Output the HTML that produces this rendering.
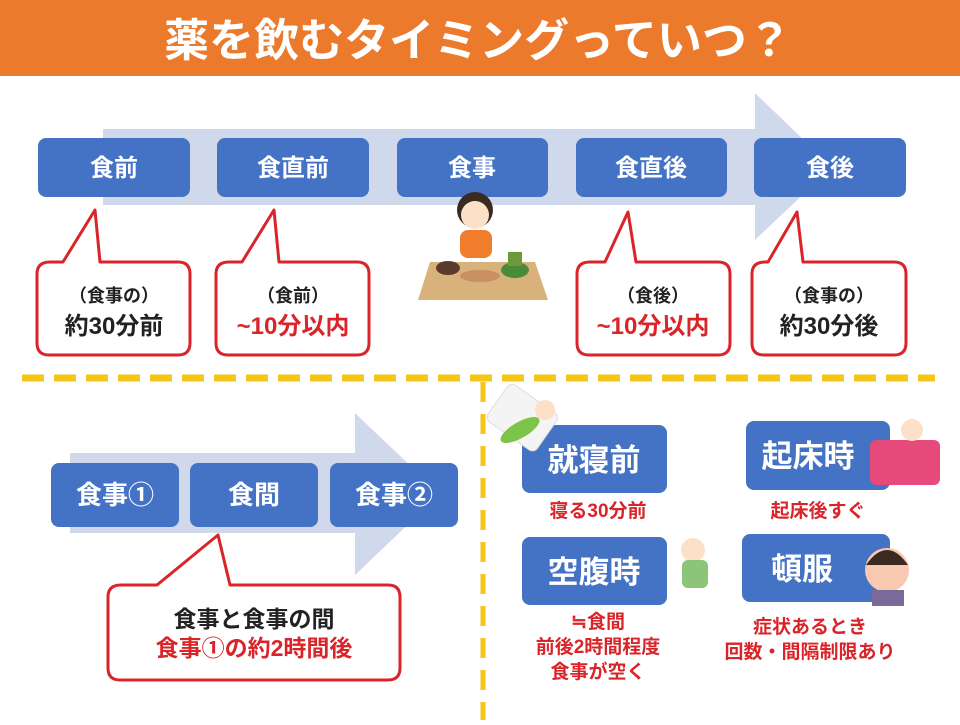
<!DOCTYPE html>
<html><head><meta charset="utf-8"><style>
body{margin:0;background:#fff}
svg text{font-family:"Liberation Sans","Noto Sans CJK JP",sans-serif;font-weight:bold}
</style></head><body>
<svg width="960" height="720" viewBox="0 0 960 720" xmlns="http://www.w3.org/2000/svg">
<rect x="0" y="0" width="960" height="76" fill="#ec7a2c"/>
<text x="478" y="56" font-size="45" fill="#fff" text-anchor="middle">薬を飲むタイミングっていつ？</text>

<polygon points="103,129 755,129 755,93 832,167 755,240 755,205 103,205" fill="#d0d8eb"/>
<g fill="#4472c4">
<rect x="38" y="138" width="152" height="59" rx="8"/>
<rect x="217" y="138" width="152" height="59" rx="8"/>
<rect x="397" y="138" width="151" height="59" rx="8"/>
<rect x="576" y="138" width="151" height="59" rx="8"/>
<rect x="754" y="138" width="152" height="59" rx="8"/>
</g>
<g fill="#fff" font-size="24" text-anchor="middle">
<text x="114" y="176">食前</text>
<text x="293" y="176">食直前</text>
<text x="472" y="176">食事</text>
<text x="651" y="176">食直後</text>
<text x="830" y="176">食後</text>
</g>

<g fill="#fff" stroke="#d9252a" stroke-width="3" stroke-linejoin="round">
<path d="M50,262 H63 L95,210 L100,262 H178 Q190,262 190,274 V343 Q190,355 178,355 H49 Q37,355 37,343 V274 Q37,262 50,262 Z"/>
<path d="M229,262 H242 L274,210 L279,262 H357 Q369,262 369,274 V343 Q369,355 357,355 H228 Q216,355 216,343 V274 Q216,262 229,262 Z"/>
<path d="M590,262 H605 L628,212 L636,262 H718 Q730,262 730,274 V343 Q730,355 718,355 H589 Q577,355 577,343 V274 Q577,262 590,262 Z"/>
<path d="M765,262 H768 L797,212 L803,262 H894 Q906,262 906,274 V343 Q906,355 894,355 H764 Q752,355 752,343 V274 Q752,262 765,262 Z"/>
<path d="M121,585 H157 L218,535 L230,585 H388 Q400,585 400,597 V668 Q400,680 388,680 H120 Q108,680 108,668 V597 Q108,585 121,585 Z"/>
</g>
<g text-anchor="middle">
<text x="114" y="302" font-size="18" fill="#222">（食事の）</text>
<text x="114" y="334" font-size="24" fill="#222">約30分前</text>
<text x="293" y="302" font-size="18" fill="#222">（食前）</text>
<text x="293" y="334" font-size="24" fill="#d9252a">~10分以内</text>
<text x="653" y="302" font-size="18" fill="#222">（食後）</text>
<text x="653" y="334" font-size="24" fill="#d9252a">~10分以内</text>
<text x="829" y="302" font-size="18" fill="#222">（食事の）</text>
<text x="829" y="334" font-size="24" fill="#222">約30分後</text>
<text x="254" y="627" font-size="23" fill="#222">食事と食事の間</text>
<text x="254" y="656" font-size="23" fill="#d9252a">食事①の約2時間後</text>
</g>

<polygon points="430,262 535,262 548,300 418,300" fill="#d8b27a"/>
<circle cx="475" cy="210" r="18" fill="#3a2a22"/>
<circle cx="475" cy="215" r="14" fill="#fde0c8"/>
<rect x="460" y="230" width="32" height="28" rx="8" fill="#ef7d2b"/>
<ellipse cx="448" cy="268" rx="12" ry="7" fill="#5a3a2a"/>
<ellipse cx="515" cy="270" rx="14" ry="8" fill="#4a8a3a"/>
<ellipse cx="480" cy="276" rx="20" ry="6" fill="#c89060"/>
<rect x="508" y="252" width="14" height="14" fill="#6a9a3a"/>

<line x1="22" y1="378" x2="935" y2="378" stroke="#f5c518" stroke-width="7" stroke-dasharray="22,10"/>
<line x1="483" y1="382" x2="483" y2="720" stroke="#f5c518" stroke-width="5" stroke-dasharray="20,12"/>

<polygon points="70,453 355,453 355,413 440,494 355,575 355,533 70,533" fill="#d0d8eb"/>
<g fill="#4472c4">
<rect x="51" y="463" width="128" height="64" rx="8"/>
<rect x="190" y="463" width="128" height="64" rx="8"/>
<rect x="330" y="463" width="128" height="64" rx="8"/>
</g>
<g fill="#fff" font-size="26" text-anchor="middle">
<text x="115" y="504">食事①</text>
<text x="254" y="504">食間</text>
<text x="394" y="504">食事②</text>
</g>

<g fill="#4472c4">
<rect x="522" y="425" width="145" height="68" rx="8"/>
<rect x="522" y="537" width="145" height="68" rx="8"/>
<rect x="746" y="421" width="144" height="69" rx="8"/>
<rect x="742" y="534" width="148" height="68" rx="8"/>
</g>
<rect x="492" y="395" width="60" height="45" rx="6" fill="#f4f4f4" stroke="#ddd" transform="rotate(35 522 418)"/>
<ellipse cx="520" cy="430" rx="22" ry="8" fill="#7cc44a" transform="rotate(-30 520 430)"/>
<circle cx="545" cy="410" r="10" fill="#fde0c8"/>
<rect x="870" y="440" width="70" height="45" rx="6" fill="#e64a7a"/>
<circle cx="912" cy="430" r="11" fill="#fde0c8"/>
<circle cx="693" cy="550" r="12" fill="#fde0c8"/>
<rect x="682" y="560" width="26" height="28" rx="6" fill="#8cc47a"/>
<circle cx="887" cy="570" r="22" fill="#f8c8b0"/>
<path d="M866,565 Q887,535 908,565" fill="#3a2a22"/>
<rect x="872" y="590" width="32" height="16" fill="#7a6a9a"/>
<g font-size="31" fill="#fff" text-anchor="middle">
<text x="594" y="471">就寝前</text>
<text x="594" y="583">空腹時</text>
<text x="808" y="467">起床時</text>
<text x="802" y="580">頓服</text>
</g>
<g font-size="19" fill="#d9252a" text-anchor="middle">
<text x="598" y="517">寝る30分前</text>
<text x="818" y="517">起床後すぐ</text>
<text x="598" y="628">≒食間</text>
<text x="598" y="653">前後2時間程度</text>
<text x="598" y="678">食事が空く</text>
<text x="810" y="633">症状あるとき</text>
<text x="810" y="658">回数・間隔制限あり</text>
</g>
</svg>
</body></html>
